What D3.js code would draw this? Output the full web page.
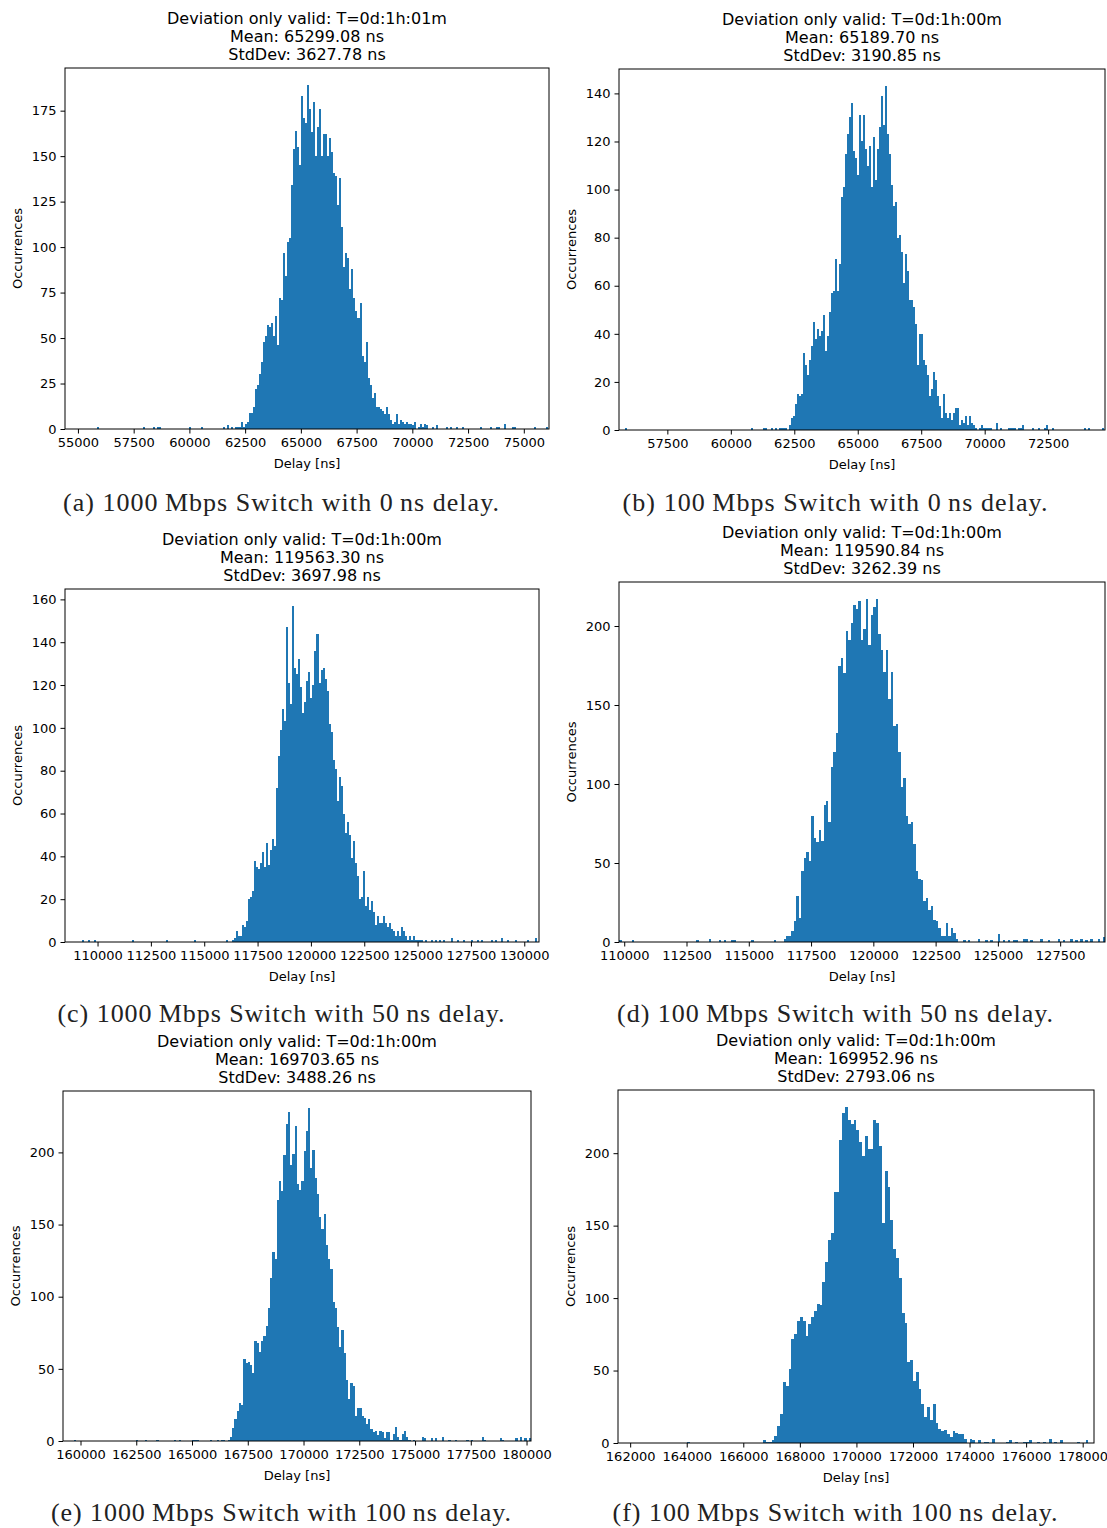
<!DOCTYPE html>
<html>
<head>
<meta charset="utf-8">
<script src="https://cdn.jsdelivr.net/npm/d3@7"></script>
<style>
  body { margin: 0; background: #fff; }
  svg text { font-family: "DejaVu Sans", sans-serif; fill: #000; }
  .caption { font-family: "Liberation Serif", "DejaVu Serif", serif; fill: #222; }
</style>
</head>
<body>
<svg id="fig" width="1107" height="1528"></svg>
<script>
// ---- data ----

const titles = [
  ["Deviation only valid: T=0d:1h:01m", "Mean: 65299.08 ns", "StdDev: 3627.78 ns"],
  ["Deviation only valid: T=0d:1h:00m", "Mean: 65189.70 ns", "StdDev: 3190.85 ns"],
  ["Deviation only valid: T=0d:1h:00m", "Mean: 119563.30 ns", "StdDev: 3697.98 ns"],
  ["Deviation only valid: T=0d:1h:00m", "Mean: 119590.84 ns", "StdDev: 3262.39 ns"],
  ["Deviation only valid: T=0d:1h:00m", "Mean: 169703.65 ns", "StdDev: 3488.26 ns"],
  ["Deviation only valid: T=0d:1h:00m", "Mean: 169952.96 ns", "StdDev: 2793.06 ns"]
];

const captions = [
  "(a) 1000\u2009Mbps Switch with 0\u2009ns delay.",
  "(b) 100\u2009Mbps Switch with 0\u2009ns delay.",
  "(c) 1000\u2009Mbps Switch with 50\u2009ns delay.",
  "(d) 100\u2009Mbps Switch with 50\u2009ns delay.",
  "(e) 1000\u2009Mbps Switch with 100\u2009ns delay.",
  "(f) 100\u2009Mbps Switch with 100\u2009ns delay."
];

// first bin of the dense part and bin width, in ns
const binStarts = [62050, 62290, 115750, 116300, 166300, 167000];
const binWidths = [90, 79, 94, 100, 100, 100];

const countsA = [1,1,1,4,1,3,4,9,9,12, 22,24,30,37,48,51,57,56,58,51,
  62,46,72,71,97,84,103,105,134,154, 164,155,145,183,171,168,189,176,163,180,
  150,166,176,150,162,162,150,160,152,141, 139,123,138,111,89,97,94,77,88,72,
  65,61,69,40,37,48,28,24,17,20, 12,12,11,10,8,12,8,5,3,4,
  8,3,5,4,3,4,3,3,2,4, 0,1,3,1,3];
const countsB = [2,5,6,11,15,14,15,32,27,23, 29,35,45,38,42,39,41,48,33,39,
  49,57,58,71,58,69,97,101,115,123, 130,136,116,113,106,131,120,131,117,110,
  118,101,122,104,117,126,139,127,143,123, 115,102,93,95,80,81,74,61,73,66,
  54,54,51,44,27,40,40,29,27,23, 14,17,24,21,14,10,5,15,7,5,
  7,4,7,9,9,2,4,3,6,2, 6,3,2,1,0,1,2,1,1,1, 1];
const countsC = [0,0,0,1,0,0,1,2,5,3, 3,8,7,10,20,21,24,38,35,34,
  37,42,35,46,36,43,48,45,72,87, 99,109,103,147,121,111,157,128,125,132,
  119,107,112,122,126,114,120,136,144,121, 127,128,123,117,102,98,85,81,66,77,
  73,60,51,56,50,39,47,37,31,20, 21,33,17,21,15,19,14,8,12,9,
  9,12,9,7,9,6,5,3,5,3, 7,5,3,1,3,1,3,1,1,1];
const countsD = [0,2,4,4,7,13,29,15,45,53, 57,51,80,66,63,71,64,87,89,76,
  111,120,132,175,180,170,197,191,202,213, 211,216,191,198,217,188,207,212,217,195,
  185,171,185,154,171,137,138,120,98,104, 80,75,76,62,45,40,39,26,28,20,
  23,14,13,9,4,4,12,4,9,6, 2,0];
const countsE = [1,1,0,1,3,9,15,21,26,25, 57,54,55,53,47,69,68,62,69,73,
  80,92,113,131,126,167,180,173,198,220, 228,191,199,218,178,174,180,201,215,231,
  189,202,182,171,155,147,157,136,126,119, 96,92,79,65,77,61,42,29,40,38,
  17,23,23,17,16,12,15,8,6,7, 4,7,6,2,6,6,1,5,10,3, 1,5,7,3];
const countsF = [2,5,12,20,42,39,51,72,75,84, 87,84,74,82,87,91,96,95,111,125,
  140,145,173,173,209,228,232,223,220,223, 216,208,198,212,203,203,223,221,205,152,
  188,177,154,134,128,114,90,83,56,57, 43,49,37,27,18,25,16,27,14,10,
  8,9,6,4,8,7];

// sparse tail bins outside the dense part: [delay ns, count]
const tailsA = [[55864,1],[57912,1],[58360,1],[58552,1],[58680,1],[59992,1],[60552,1],[61560,1],[61720,2],[61900,1],
  [70672,2],[70872,1],[71112,2],[71512,1],[71752,1],[71960,1],[72232,1],[73112,1],[73512,1],[73832,1],
  [73912,1],[74120,3],[74504,1],[74584,1],[75464,1],[76072,1]];
const tailsB = [[55871,1],[60804,1],[61300,1],[61400,1],[61600,1],[61800,1],[61950,1],[62030,1],[62110,1],[62190,1],
  [70460,3],[70658,1],[70907,1],[71000,1],[71080,1],[71160,1],[71320,1],[71400,1],[71480,2],[71854,1],
  [72110,1],[72327,1],[72446,2],[72682,1],[73945,1],[74083,1],[74640,1]];
const tailsC = [[109333,1],[109550,1],[109633,1],[109917,1],[111700,1],[113300,1],[114583,1],
  [125217,1],[125417,1],[125633,1],[125833,1],[126033,1],[126250,1],[126583,2],[126917,1],[127217,1],
  [127500,1],[127800,1],[128050,1],[128467,1],[128717,1],[129000,2],[129250,1],[129633,1],[130133,1],[130583,2]];
const tailsD = [[109885,1],[110315,1],[112964,1],[113494,2],[113823,1],[114038,1],[114324,1],[114468,1],[115112,1],[116014,1],
  [123633,1],[123850,1],[124205,2],[124563,1],[124778,1],[125022,5],[125208,1],[125494,1],[125600,1],[125780,1],
  [126038,2],[126140,2],[126353,1],[126754,2],[127000,1],[127425,2],[127640,1],[127927,2],[128141,1],[128356,2],
  [128570,1],[128788,2],[129003,2],[129218,3]];
const tailsE = [[159792,1],[162587,1],[162986,1],[163418,1],[164296,1],[164424,1],[165014,1],[165174,1],[165250,1],[165893,1],[166133,1],
  [174756,1],[174996,1],[175315,3],[175475,2],[175794,2],[175950,2],[176274,3],[176513,1],[176832,1],[177391,1],
  [177550,1],[178030,3],[178190,1],[178829,2],[178900,1],[179547,2],[179707,3],[179946,2],[180106,2]];
const tailsF = [[164000,1],[166700,2],[166800,1],[166900,1],
  [173637,6],[173737,6],[173863,3],[174051,3],[174177,2],[174366,2],[174517,1],[174618,1],[174895,3],[175310,1],
  [175423,2],[175624,1],[175938,1],[176090,1],[176153,2],[176430,1],[176656,1],[176844,3],[177096,1],[177247,2],
  [177876,1],[178128,2]];

// axis limits and tick labels
const xLimits = [[54420, 76130], [55595, 74740], [108475, 130690], [109790, 129300], [159215, 180200], [161570, 178400]];
const xTicksA = [55000, 57500, 60000, 62500, 65000, 67500, 70000, 72500, 75000];
const xTicksB = [57500, 60000, 62500, 65000, 67500, 70000, 72500];
const xTicksC = [110000, 112500, 115000, 117500, 120000, 122500, 125000, 127500, 130000];
const xTicksD = [110000, 112500, 115000, 117500, 120000, 122500, 125000, 127500];
const xTicksE = [160000, 162500, 165000, 167500, 170000, 172500, 175000, 177500, 180000];
const xTicksF = [162000, 164000, 166000, 168000, 170000, 172000, 174000, 176000, 178000];
const yTicksA = [0, 25, 50, 75, 100, 125, 150, 175];
const yTicksB = [0, 20, 40, 60, 80, 100, 120, 140];
const yTicksC = [0, 20, 40, 60, 80, 100, 120, 140, 160];
const yTicksD = [0, 50, 100, 150, 200];
const yTicksE = [0, 50, 100, 150, 200];
const yTicksF = [0, 50, 100, 150, 200];

// ---- layout (page pixels) ----
const boxes = [
  {x0: 65,  x1: 549,  y0: 68,   y1: 429,  capY: 511},
  {x0: 619, x1: 1105, y0: 69,   y1: 430,  capY: 511},
  {x0: 65,  x1: 539,  y0: 589,  y1: 942,  capY: 1022},
  {x0: 619, x1: 1105, y0: 582,  y1: 942,  capY: 1022},
  {x0: 63,  x1: 531,  y0: 1091, y1: 1441, capY: 1521},
  {x0: 618, x1: 1094, y0: 1090, y1: 1443, capY: 1521}
];
const capWidths = [436, 425, 447, 436, 460, 445];

const counts = [countsA, countsB, countsC, countsD, countsE, countsF];
const tails = [tailsA, tailsB, tailsC, tailsD, tailsE, tailsF];
const xTicks = [xTicksA, xTicksB, xTicksC, xTicksD, xTicksE, xTicksF];
const yTicks = [yTicksA, yTicksB, yTicksC, yTicksD, yTicksE, yTicksF];

const svg = d3.select("#fig");
const barColor = "#1f77b4";

function drawPanel(i) {
  const box = boxes[i];
  const start = binStarts[i], w = binWidths[i];

  // dense bins followed by the sparse tail bins, snapped to the same grid
  const bins = counts[i].map(function(c, k) { return {x0: start + k * w, n: c}; })
    .concat(tails[i].map(function(t) {
      return {x0: start + Math.floor((t[0] - start) / w) * w, n: t[1]};
    }))
    .filter(function(d) { return d.n > 0; });

  const x = d3.scaleLinear().domain(xLimits[i]).range([box.x0, box.x1]);
  const yMax = d3.max(bins, function(d) { return d.n; }) * 1.05;
  const y = d3.scaleLinear().domain([0, yMax]).range([box.y1, box.y0]);

  const g = svg.append("g");

  g.append("clipPath").attr("id", "clip" + i)
    .append("rect")
      .attr("x", box.x0).attr("y", box.y0)
      .attr("width", box.x1 - box.x0).attr("height", box.y1 - box.y0);

  g.append("g").attr("clip-path", "url(#clip" + i + ")")
    .selectAll("rect")
    .data(bins)
    .join("rect")
      .attr("x", function(d) { return x(d.x0); })
      .attr("width", function(d) { return x(d.x0 + w) - x(d.x0); })
      .attr("y", function(d) { return y(d.n); })
      .attr("height", function(d) { return y(0) - y(d.n); })
      .attr("fill", barColor)
      .attr("shape-rendering", "crispEdges");

  // axes
  const xAxis = d3.axisBottom(x).tickValues(xTicks[i]).tickFormat(d3.format("d"))
    .tickSizeInner(4.5).tickSizeOuter(0).tickPadding(4);
  const yAxis = d3.axisLeft(y).tickValues(yTicks[i]).tickFormat(d3.format("d"))
    .tickSizeInner(4.5).tickSizeOuter(0).tickPadding(4);

  const gx = g.append("g").attr("transform", "translate(0," + box.y1 + ")").call(xAxis);
  const gy = g.append("g").attr("transform", "translate(" + box.x0 + ",0)").call(yAxis);
  [gx, gy].forEach(function(a) {
    a.select(".domain").remove();
    a.selectAll("line").attr("stroke", "#000").attr("stroke-width", 1);
    a.selectAll("text").attr("font-size", 13).attr("fill", "#000")
      .style("font-family", "DejaVu Sans, sans-serif");
  });

  // frame
  g.append("rect")
    .attr("x", box.x0).attr("y", box.y0)
    .attr("width", box.x1 - box.x0).attr("height", box.y1 - box.y0)
    .attr("fill", "none").attr("stroke", "#000").attr("stroke-width", 1);

  // axis labels
  const cx = (box.x0 + box.x1) / 2;
  g.append("text")
    .attr("x", cx).attr("y", box.y1 + 39)
    .attr("text-anchor", "middle").attr("font-size", 13)
    .text("Delay [ns]");
  g.append("text")
    .attr("transform", "translate(" + (box.x0 - 43) + "," + ((box.y0 + box.y1) / 2) + ") rotate(-90)")
    .attr("text-anchor", "middle").attr("font-size", 13)
    .text("Occurrences");

  // three-line title
  g.selectAll("text.title")
    .data(titles[i])
    .join("text")
      .attr("class", "title")
      .attr("x", cx)
      .attr("y", function(d, k) { return box.y0 - 44 + k * 18; })
      .attr("text-anchor", "middle").attr("font-size", 16)
      .text(function(d) { return d; });

  // sub-figure caption
  const capX = i % 2 === 0 ? 281 : 835;
  g.append("text")
    .attr("class", "caption")
    .attr("x", capX).attr("y", box.capY)
    .attr("text-anchor", "middle").attr("font-size", 26)
    .attr("textLength", capWidths[i]).attr("lengthAdjust", "spacing")
    .text(captions[i]);
}

d3.range(6).forEach(drawPanel);
</script>
</body>
</html>
